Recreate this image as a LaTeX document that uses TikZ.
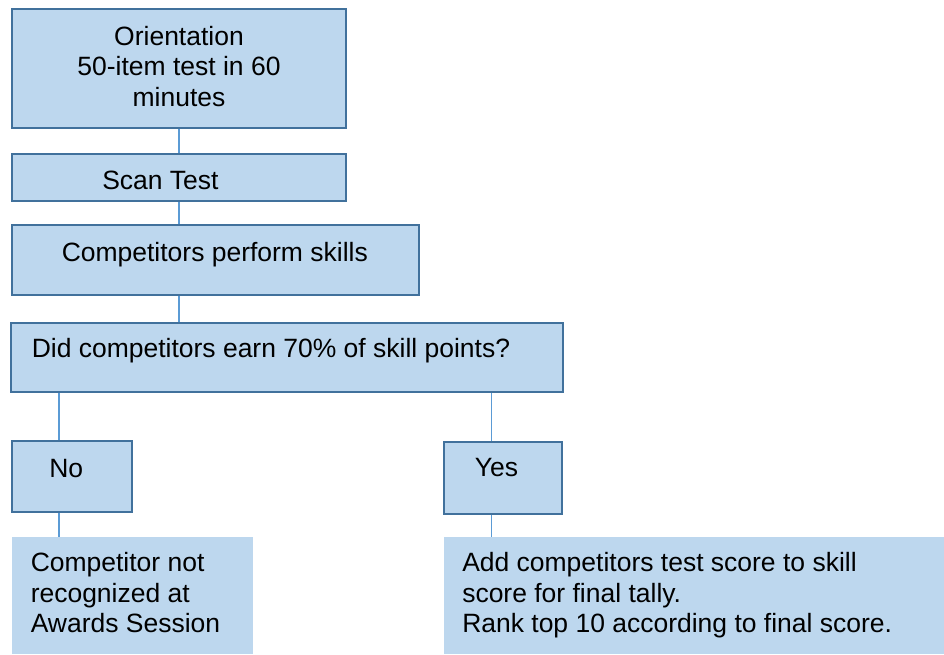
\documentclass[tikz,border=0pt]{standalone}
\usepackage{fontspec}
\setmainfont{Liberation Sans}
\definecolor{boxfill}{HTML}{BDD7EE}
\definecolor{boxline}{HTML}{41719C}
\definecolor{linkline}{HTML}{5B9BD5}
\begin{document}
\begin{tikzpicture}[x = 0.75pt, y = -0.75pt,
   box/.style = {rectangle, fill = boxfill, draw = boxline, line width = 1.6pt, inner sep = 0pt},
   plainbox/.style = {rectangle, fill = boxfill, inner sep = 0pt},
   txt/.style = {inner sep = 0pt, font = \fontsize{19.86}{22.9}\selectfont, align = left},
   link/.style = {draw = linkline, line width = 0.9pt}]
\useasboundingbox (0,0) rectangle (944,654);

\node[box, minimum width = 250.4pt, minimum height = 89.2pt] (orient) at (179,68.5) {};
\node[box, minimum width = 250.4pt, minimum height = 35.2pt] (scan) at (179,177.5) {};
\node[box, minimum width = 305.2pt, minimum height = 52.4pt] (perform) at (215.5,260) {};
\node[box, minimum width = 413.9pt, minimum height = 51.7pt] (did) at (287,357.5) {};
\node[box, minimum width = 89.9pt, minimum height = 53.2pt] (no) at (72,476.5) {};
\node[box, minimum width = 88.4pt, minimum height = 53.9pt] (yes) at (503,478) {};
\node[plainbox, minimum width = 180.75pt, minimum height = 87.75pt] (fail) at (132.5,595.5) {};
\node[plainbox, minimum width = 375pt, minimum height = 87.75pt] (pass) at (694,595.5) {};

% multi-line texts sit on the baseline of their last line
\node[txt, align = center, anchor = base] (orienttext) at (179,106.5) {Orientation\\50-item test in 60\\minutes};
\node[txt, anchor = base west] (scantext) at (102,189) {Scan Test};
\node[txt, anchor = base west] (performtext) at (61.5,261.7) {Competitors perform skills};
\node[txt, anchor = base west] (didtext) at (31.5,357.3) {Did competitors earn 70\% of skill points?};
\node[txt, anchor = base west] (notext) at (49,477.3) {No};
\node[txt, anchor = base west] (yestext) at (474.5,476.7) {Yes};
\node[txt, anchor = base west] (failtext) at (30.5,632.7) {Competitor not\\recognized at\\Awards Session};
\node[txt, anchor = base west] (passtext) at (462,632.7) {Add competitors test score to skill\\score for final tally.\\Rank top 10 according to final score.};

\coordinate (nobranch) at (59,0);
\coordinate (yesbranch) at (491.5,0);

\draw[link] (orient.south) -- (scan.north);
\draw[link] (scan.south) -- (scan.south |- perform.north);
\draw[link] (perform.south -| orient.south) -- (did.north -| orient.south);
\draw[link] (did.south -| nobranch) -- (no.north -| nobranch);
\draw[link] (did.south -| yesbranch) -- (yes.north -| yesbranch);
\draw[link] (no.south -| nobranch) -- (fail.north -| nobranch);
\draw[link] (yes.south -| yesbranch) -- (pass.north -| yesbranch);
\end{tikzpicture}
\end{document}
